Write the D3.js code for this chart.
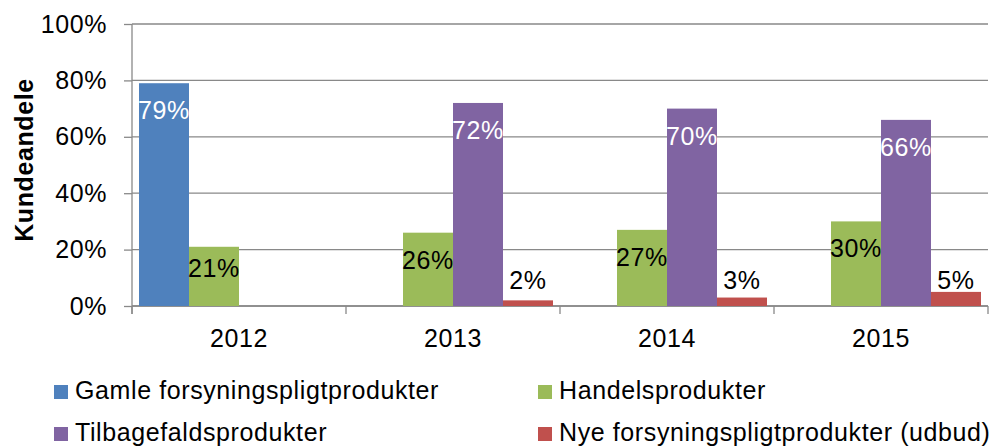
<!DOCTYPE html>
<html>
<head>
<meta charset="utf-8">
<script src="https://cdn.jsdelivr.net/npm/d3@7"></script>
<style>
  body { margin: 0; background: #fff; overflow: hidden; }
  svg { display: block; }
  text { font-family: "Liberation Sans", Arial, sans-serif; letter-spacing: 0.6px; }
</style>
</head>
<body>
<script>
// data
let years = ['2012', '2013', '2014', '2015']
let seriesNames = [
    'Gamle forsyningspligtprodukter',
    'Handelsprodukter',
    'Tilbagefaldsprodukter',
    'Nye forsyningspligtprodukter (udbud)'
]
let gamle = [79, null, null, null]
let handel = [21, 26, 27, 30]
let tilbage = [null, 72, 70, 66]
let nye = [null, 2, 3, 5]
let yTicks = [0, 20, 40, 60, 80, 100]

let colors = ['#4F81BD', '#9BBB59', '#8064A2', '#C0504D']
let seriesValues = [gamle, handel, tilbage, nye]

// svg setup
let svgWidth = 996
let svgHeight = 446
let margin = {top: 24, right: 8, bottom: 140, left: 132}
let innerWidth = svgWidth - margin.left - margin.right
let innerHeight = svgHeight - margin.top - margin.bottom
let gridColor = '#898989'

let svg = d3.select('body').append('svg')
            .attr('width', svgWidth)
            .attr('height', svgHeight)

let inner = svg.append('g')
            .attr('transform', 'translate(' + margin.left + ',' + margin.top + ')')

// scales
let x0 = d3.scaleBand().domain(years).range([0, innerWidth]).padding(0)
let x1 = d3.scaleBand().domain(d3.range(seriesNames.length))
            .range([0, x0.bandwidth()])
            .paddingInner(0).paddingOuter(0.14)
let y = d3.scaleLinear().domain([0, 100]).range([innerHeight, 0])

// gridlines
inner.selectAll('.grid')
    .data(yTicks)
    .join('line')
    .classed('grid', true)
    .attr('x1', 0).attr('x2', innerWidth)
    .attr('y1', d => y(d)).attr('y2', d => y(d))
    .style('stroke', gridColor)
    .style('stroke-width', 1.3)

// y axis
let yAxis = d3.axisLeft(y).tickValues(yTicks).tickSize(8).tickPadding(17)
            .tickFormat(d => d + '%')
let yg = inner.append('g').call(yAxis).attr('font-family', null)
yg.select('.domain').remove()
yg.selectAll('line').style('stroke', gridColor).style('stroke-width', 1.3)
yg.selectAll('text').style('font-size', '25px').style('fill', '#000')
inner.append('line')
    .attr('x1', 0).attr('x2', 0).attr('y1', 0).attr('y2', innerHeight + 8)
    .style('stroke', gridColor).style('stroke-width', 1.3)

// x axis (ticks at group boundaries)
inner.append('line')
    .attr('x1', 0).attr('x2', innerWidth)
    .attr('y1', innerHeight).attr('y2', innerHeight)
    .style('stroke', gridColor).style('stroke-width', 1.3)
inner.selectAll('.xtick')
    .data(d3.range(years.length + 1))
    .join('line')
    .classed('xtick', true)
    .attr('x1', d => d * x0.step()).attr('x2', d => d * x0.step())
    .attr('y1', innerHeight).attr('y2', innerHeight + 8)
    .style('stroke', gridColor).style('stroke-width', 1.3)
inner.selectAll('.xlabel')
    .data(years)
    .join('text')
    .classed('xlabel', true)
    .attr('x', d => x0(d) + x0.bandwidth() / 2)
    .attr('y', innerHeight + 41)
    .attr('text-anchor', 'middle')
    .style('font-size', '25px')
    .text(d => d)

// bars
let barData = []
seriesValues.forEach((vals, s) => {
    vals.forEach((v, i) => {
        if (v != null) barData.push({year: years[i], s: s, v: v})
    })
})

inner.selectAll('.bar')
    .data(barData)
    .join('rect')
    .classed('bar', true)
    .attr('x', d => x0(d.year) + x1(d.s))
    .attr('width', x1.bandwidth())
    .attr('y', d => y(d.v))
    .attr('height', d => y(0) - y(d.v))
    .style('fill', d => colors[d.s])

// data labels
inner.selectAll('.dlabel')
    .data(barData)
    .join('text')
    .classed('dlabel', true)
    .attr('x', d => x0(d.year) + x1(d.s) + x1.bandwidth() / 2)
    .attr('y', d => {
        if (d.s == 3) return y(0) - 17
        return Math.min(y(d.v) + 36, y(0) - 29)
    })
    .attr('text-anchor', 'middle')
    .style('font-size', '25px')
    .style('fill', d => (d.s == 0 || d.s == 2) ? '#fff' : '#000')
    .text(d => d.v + '%')

// y title
svg.append('text')
    .attr('transform', 'translate(33,160) rotate(-90)')
    .attr('text-anchor', 'middle')
    .style('font-size', '25px')
    .style('font-weight', 'bold')
    .text('Kundeandele')

// legend
let legendPos = [
    {x: 54, y: 392}, {x: 538, y: 392},
    {x: 54, y: 434}, {x: 538, y: 434}
]
let legend = svg.selectAll('.legend')
    .data(seriesNames)
    .join('g')
    .classed('legend', true)
    .attr('transform', (d, i) => 'translate(' + legendPos[i].x + ',' + legendPos[i].y + ')')
legend.append('rect')
    .attr('x', 0).attr('y', -7).attr('width', 14).attr('height', 14)
    .style('fill', (d, i) => colors[i])
legend.append('text')
    .attr('x', 21).attr('y', 6.5)
    .style('font-size', '25px')
    .text(d => d)
</script>
</body>
</html>
